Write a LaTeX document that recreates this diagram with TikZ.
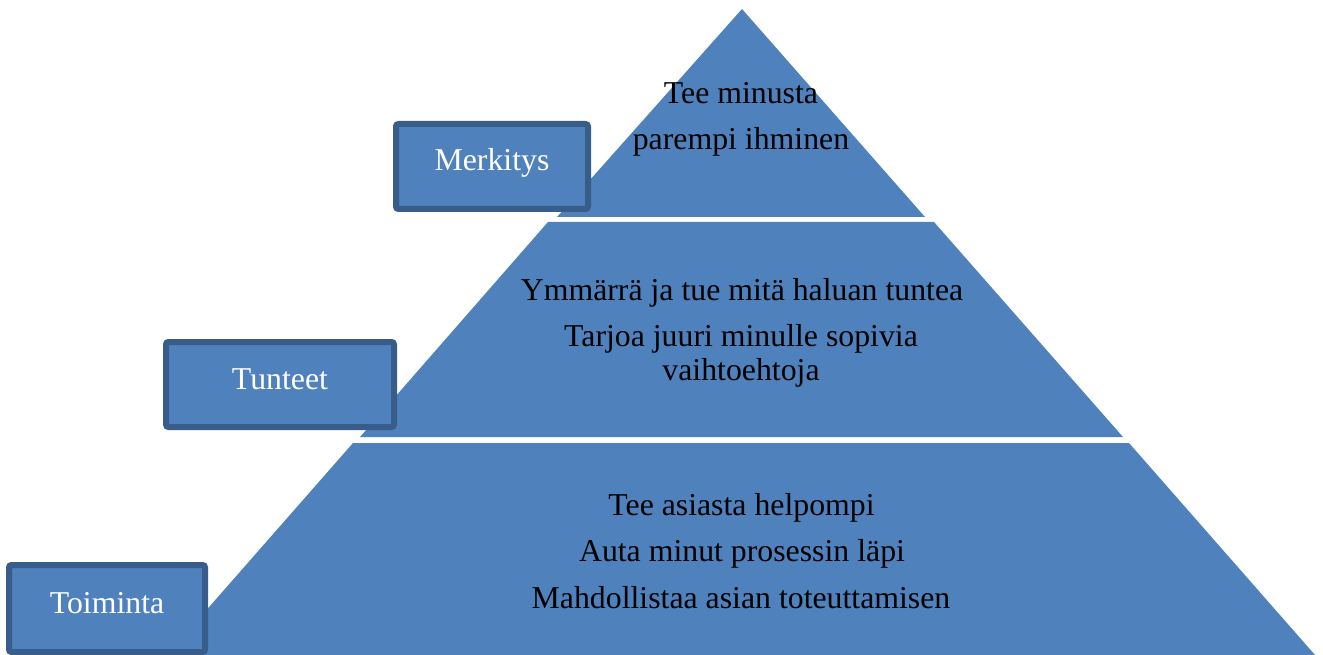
\documentclass[tikz,border=0pt]{standalone}
\usepackage{fontspec}
\setmainfont{Liberation Serif}
\definecolor{tierblue}{HTML}{4F81BD}
\definecolor{tierline}{HTML}{385D8A}
\begin{document}
\begin{tikzpicture}[x=1pt,y=-1pt,
  tier/.style={fill=tierblue,draw=none},
  tiertext/.style={anchor=base,inner sep=0pt,text=black,font=\fontsize{31.8}{36}\selectfont},
  levelbox/.style={fill=tierblue,draw=tierline,line width=6pt,rounded corners=2.5pt,
    inner sep=0pt,text=white,font=\fontsize{31.8}{36}\selectfont,
    text height=22pt,text depth=13pt,minimum height=85pt}]
\useasboundingbox (0,0) rectangle (1323,655);

% three pyramid tiers
\fill[tier] (742,9) -- (925,217) -- (557,217) -- cycle;
\fill[tier] (548,222) -- (934,222) -- (1123,437) -- (360,437) -- cycle;
\fill[tier] (353,443) -- (1129,443) -- (1315,655) -- (167,655) -- cycle;

% tier texts
\node[tiertext] (top1) at (741,103.5) {Tee minusta};
\node[tiertext] (top2) at (741,150) {parempi ihminen};
\node[tiertext] (mid1) at (742,300) {Ymmärrä ja tue mitä haluan tuntea};
\node[tiertext] (mid2) at (741,346) {Tarjoa juuri minulle sopivia};
\node[tiertext] (mid3) at (741,380) {vaihtoehtoja};
\node[tiertext] (low1) at (741.5,515) {Tee asiasta helpompi};
\node[tiertext] (low2) at (742,561) {Auta minut prosessin läpi};
\node[tiertext] (low3) at (741,608) {Mahdollistaa asian toteuttamisen};

% level labels
\node[levelbox,minimum width=192pt] (merkitys) at (492,166.5) {Merkitys};
\node[levelbox,minimum width=228pt] (tunteet) at (280,384.5) {Tunteet};
\node[levelbox,minimum width=196pt,minimum height=87pt] (toiminta) at (107,608.5) {Toiminta};
\end{tikzpicture}
\end{document}
